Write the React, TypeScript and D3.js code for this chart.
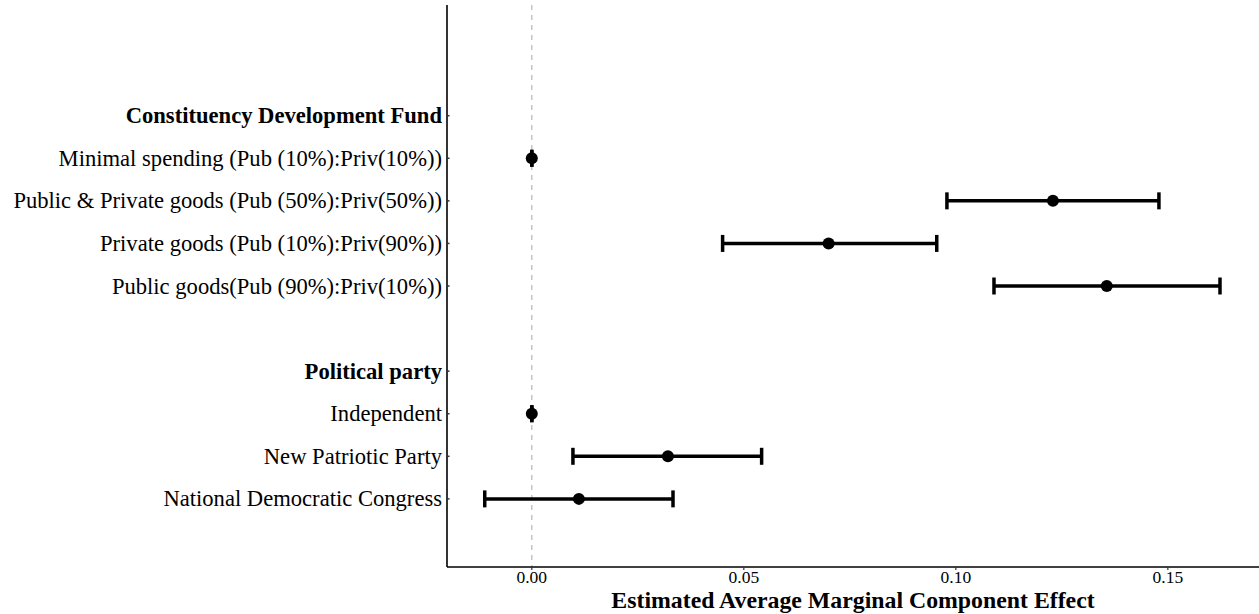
import React from "react";
import * as d3 from "d3";

const levels = [
  "Constituency Development Fund",
  "Minimal spending (Pub (10%):Priv(10%))",
  "Public & Private goods (Pub (50%):Priv(50%))",
  "Private goods (Pub (10%):Priv(90%))",
  "Public goods(Pub (90%):Priv(10%))",
  "",
  "Political party",
  "Independent",
  "New Patriotic Party",
  "National Democratic Congress",
];
const headers = ["Constituency Development Fund", "Political party"];

const estLabels = [
  "Minimal spending (Pub (10%):Priv(10%))",
  "Public & Private goods (Pub (50%):Priv(50%))",
  "Private goods (Pub (10%):Priv(90%))",
  "Public goods(Pub (90%):Priv(10%))",
  "Independent",
  "New Patriotic Party",
  "National Democratic Congress",
];
const estimates = [0, 0.1229, 0.07, 0.1356, 0, 0.0321, 0.0111];
const lower = [0, 0.0979, 0.045, 0.109, 0, 0.0097, -0.0111];
const upper = [0, 0.1479, 0.0955, 0.1623, 0, 0.0542, 0.0333];

const xTicks = [0, 0.05, 0.1, 0.15];

const W = 1259;
const H = 614;
const left = 447;
const right = 1259;
const top = 5;
const bottom = 567;

export default function App() {
  const x = d3.scaleLinear().domain([-0.02, 0.1715]).range([left, right]);
  const yIdx = d3.scaleLinear().domain([-2.6, 10.6]).range([top, bottom]);
  const y = (name: string) => yIdx(levels.indexOf(name));
  const font = "'Liberation Serif', 'Times New Roman', serif";
  return (
    <svg
      width={W}
      height={H}
      style={{ position: "absolute", left: 0, top: 0, background: "#fff" }}
      fontFamily={font}
    >
      <line
        x1={x(0)}
        x2={x(0)}
        y1={top}
        y2={bottom}
        stroke="#bdbdbd"
        strokeWidth={1.3}
        strokeDasharray="5,5"
      />
      {estLabels.map((name, i) => {
        const cy = y(name);
        return (
          <g key={name}>
            <line x1={x(lower[i])} x2={x(upper[i])} y1={cy} y2={cy} stroke="#000" strokeWidth={3.5} />
            <line x1={x(lower[i])} x2={x(lower[i])} y1={cy - 8.5} y2={cy + 8.5} stroke="#000" strokeWidth={3.5} />
            <line x1={x(upper[i])} x2={x(upper[i])} y1={cy - 8.5} y2={cy + 8.5} stroke="#000" strokeWidth={3.5} />
            <circle cx={x(estimates[i])} cy={cy} r={6} fill="#000" />
          </g>
        );
      })}
      <line x1={left} x2={left} y1={top} y2={bottom} stroke="#000" strokeWidth={1.6} />
      <line x1={left} x2={right} y1={bottom} y2={bottom} stroke="#000" strokeWidth={1.6} />
      {levels.filter((l) => l !== "").map((l) => (
        <g key={l}>
          <line x1={left} x2={left + 2.5} y1={y(l)} y2={y(l)} stroke="#333" strokeWidth={1.5} />
          <text
            x={left - 5}
            y={y(l)}
            textAnchor="end"
            dominantBaseline="central"
            fontSize={22.6}
            fontWeight={headers.includes(l) ? "bold" : "normal"}
            fill="#000"
          >
            {l}
          </text>
        </g>
      ))}
      {xTicks.map((t) => (
        <g key={t}>
          <line x1={x(t)} x2={x(t)} y1={bottom} y2={bottom + 3} stroke="#333" strokeWidth={1.2} />
          <text x={x(t)} y={bottom + 16} textAnchor="middle" fontSize={17.5} fill="#000">
            {d3.format(".2f")(t)}
          </text>
        </g>
      ))}
      <text
        x={(left + right) / 2}
        y={608}
        textAnchor="middle"
        fontSize={23.8}
        fontWeight="bold"
        fill="#000"
      >
        Estimated Average Marginal Component Effect
      </text>
    </svg>
  );
}
